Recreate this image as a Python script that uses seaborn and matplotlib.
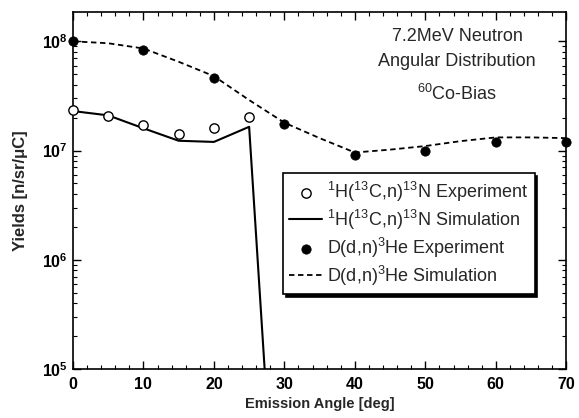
import numpy as np
import pandas as pd
import matplotlib
matplotlib.use('Agg')
import matplotlib.pyplot as plt
import matplotlib.ticker as mticker
from matplotlib import font_manager
import seaborn as sns

# dados
ang_h_exp = [0, 5, 10, 15, 20, 25]
yld_h_exp = [2.36e7, 2.09e7, 1.72e7, 1.43e7, 1.61e7, 2.05e7]

ang_h_sim = [0, 5, 10, 15, 20, 25, 27.5]
yld_h_sim = [2.3e7, 2.1e7, 1.6e7, 1.23e7, 1.2e7, 1.65e7, 5e4]

ang_d_exp = [0, 10, 20, 30, 40, 50, 60, 70]
yld_d_exp = [1.0e8, 8.3e7, 4.6e7, 1.76e7, 9.2e6, 1.0e7, 1.19e7, 1.19e7]

ang_d_sim = [0, 5, 10, 15, 20, 25, 30, 35, 40, 45, 50, 55, 60, 65, 70]
yld_d_sim = [1.0e8, 9.6e7, 8.6e7, 6.5e7, 4.8e7, 2.9e7, 1.8e7, 1.3e7, 9.6e6,
             1.02e7, 1.1e7, 1.22e7, 1.32e7, 1.32e7, 1.3e7]

rotulos = [r'$^{1}$H($^{13}$C,n)$^{13}$N Experiment',
           r'$^{1}$H($^{13}$C,n)$^{13}$N Simulation',
           r'D(d,n)$^{3}$He Experiment',
           r'D(d,n)$^{3}$He Simulation']

sns.set_style('ticks')
plt.rcParams['font.family'] = ['Liberation Sans', 'DejaVu Sans']
plt.rcParams['mathtext.fontset'] = 'custom'
plt.rcParams['mathtext.rm'] = 'Liberation Sans'
plt.rcParams['mathtext.bf'] = 'Liberation Sans:bold'
plt.rcParams['mathtext.it'] = 'Liberation Sans:italic'

# fonte estreita para titulo e legenda, se existir
nomes = {f.name for f in font_manager.fontManager.ttflist}
if 'Liberation Sans Narrow' in nomes:
    fam_estreita = 'Liberation Sans Narrow'
    tam_titulo, tam_leg = 16, 16
else:
    fam_estreita = 'Liberation Sans'
    tam_titulo, tam_leg = 13, 13

fig, ax = plt.subplots(figsize=(5.79, 4.18), dpi=100)
fig.subplots_adjust(left=0.126, right=0.978, top=0.971, bottom=0.117)

df_hs = pd.DataFrame({'ang': ang_h_sim, 'y': yld_h_sim})
df_he = pd.DataFrame({'ang': ang_h_exp, 'y': yld_h_exp})
df_ds = pd.DataFrame({'ang': ang_d_sim, 'y': yld_d_sim})
df_de = pd.DataFrame({'ang': ang_d_exp, 'y': yld_d_exp})

sns.scatterplot(data=df_he, x='ang', y='y', ax=ax, marker='o', s=45,
                facecolor='white', edgecolor='black', linewidth=1.0,
                label=rotulos[0], zorder=4, clip_on=False)
sns.lineplot(data=df_hs, x='ang', y='y', ax=ax, color='black', lw=1.5,
             label=rotulos[1], zorder=3)
sns.scatterplot(data=df_de, x='ang', y='y', ax=ax, marker='o', s=45,
                color='black', edgecolor='black', label=rotulos[2],
                zorder=4, clip_on=False)
sns.lineplot(data=df_ds, x='ang', y='y', ax=ax, color='black', lw=1.3,
             linestyle=(0, (3, 2)), label=rotulos[3], zorder=3)

ax.set_yscale('log')
ax.set_xlim(0, 70)
ax.set_ylim(1e5, 1.85e8)

ax.xaxis.set_major_locator(mticker.MultipleLocator(10))
ax.xaxis.set_minor_locator(mticker.MultipleLocator(2))
ax.yaxis.set_major_locator(mticker.LogLocator(base=10))
ax.yaxis.set_minor_locator(mticker.LogLocator(base=10, subs=np.arange(2, 10)))
ax.yaxis.set_minor_formatter(mticker.NullFormatter())
ax.yaxis.set_major_formatter(mticker.FuncFormatter(
    lambda v, p: r'$\mathbf{10^{%d}}$' % int(round(np.log10(v)))))

ax.tick_params(which='both', direction='in', top=True, right=True, colors='black')
ax.tick_params(which='major', length=6, width=1, labelsize=11.5)
ax.tick_params(which='minor', length=3, width=0.8)
ax.tick_params(axis='x', which='major', pad=6)
for lbl in ax.get_xticklabels():
    lbl.set_fontweight('bold')
for sp in ax.spines.values():
    sp.set_color('black')
    sp.set_linewidth(1.2)

ax.set_xlabel('Emission Angle [deg]', fontsize=10.5, fontweight='bold', labelpad=3)
ax.set_ylabel('Yields [n/sr/μC]', fontsize=12, fontweight='bold', labelpad=10)

ax.text(0.779, 0.933, '7.2MeV Neutron', transform=ax.transAxes, family=fam_estreita,
        ha='center', va='center', fontsize=tam_titulo)
ax.text(0.779, 0.862, 'Angular Distribution', transform=ax.transAxes, family=fam_estreita,
        ha='center', va='center', fontsize=tam_titulo)
ax.text(0.779, 0.772, r'$^{60}$Co-Bias', transform=ax.transAxes, family=fam_estreita,
        ha='center', va='center', fontsize=tam_titulo)

leg = ax.legend(loc='upper left', bbox_to_anchor=(0.426, 0.549),
                prop={'family': fam_estreita, 'size': tam_leg},
                frameon=True, fancybox=False, shadow={'color': 'black', 'alpha': 1},
                edgecolor='black', handlelength=1.8, borderpad=0.35,
                labelspacing=0.22, handletextpad=0.3, borderaxespad=0)
leg.get_frame().set_linewidth(1.2)

plt.savefig('out.png', dpi=100)
